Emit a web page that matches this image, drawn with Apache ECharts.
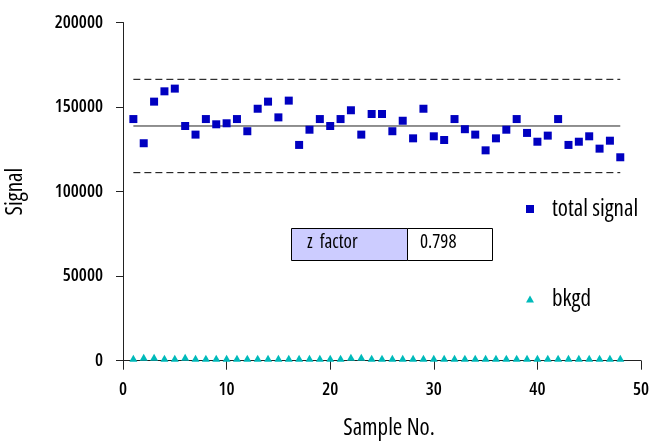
<!DOCTYPE html>
<html>
<head>
<meta charset="utf-8">
<script src="https://cdn.jsdelivr.net/npm/echarts@6/dist/echarts.min.js"></script>
<style>
html,body{margin:0;padding:0;background:#fff;}
#chart{width:650px;height:445px;}
</style>
</head>
<body>
<div id="chart"></div>
<script>
var sampleNo = [1,2,3,4,5,6,7,8,9,10,11,12,13,14,15,16,17,18,19,20,21,22,23,24,25,26,27,28,29,30,31,32,33,34,35,36,37,38,39,40,41,42,43,44,45,46,47,48];
var totalSignal = [142900,128600,153200,159300,160900,138800,133700,142900,139800,140400,142900,135700,149000,153200,143900,153800,127600,136600,142900,138800,142900,148100,133700,145900,145900,135700,141900,131500,149000,132700,130500,142900,136900,133700,124400,131500,136600,142900,134700,129500,133100,142900,127600,129500,132700,125400,130100,120300];
var bkgd = [1500,2100,2100,1500,1500,2100,1500,1500,1500,1500,1500,1500,1500,1500,1500,1500,1500,1500,1500,1500,1500,2100,2100,1500,1500,1500,1500,1500,1500,1500,1500,1500,1500,1500,1500,1500,1500,1500,1500,1500,1500,1500,1500,1500,1500,1500,1500,1500];
var meanValue = 138800;
var upperLimit = 166400;
var lowerLimit = 111200;
var lineRange = [1, 48];
var zFactorLabel = 'z  factor';
var zFactorValue = '0.798';
var xTicks = {min: 0, max: 50, interval: 10};
var yTicks = {min: 0, max: 200000, interval: 50000};

var FONT = '"Open Sans", sans-serif';
var chart = echarts.init(document.getElementById('chart'));

function pairs(xs, ys){ return xs.map(function(x,i){ return [x, ys[i]]; }); }
function hline(v){ return [[lineRange[0], v],[lineRange[1], v]]; }
function plain(v){ return String(v); }

var option = {
  animation: false,
  backgroundColor: '#ffffff',
  grid: {left: 123, right: 9, top: 22.5, bottom: 84.3, containLabel: false, outerBoundsMode: 'none'},
  xAxis: {
    type: 'value', min: xTicks.min, max: xTicks.max, interval: xTicks.interval,
    name: 'Sample No.', nameLocation: 'middle', nameGap: 56,
    nameTextStyle: {fontFamily: FONT, fontStyle: 'condensed', fontSize: 23, fontWeight: 500, color: '#000', padding: [0,0,0,14]},
    axisLine: {show: true, onZero: false, lineStyle: {color: '#222', width: 1}},
    axisTick: {show: true, inside: false, length: 9, lineStyle: {color: '#222'}},
    axisLabel: {fontFamily: FONT, fontStyle: 'condensed', fontSize: 18, fontWeight: 600, color: '#000', margin: 20, formatter: plain},
    splitLine: {show: false}
  },
  yAxis: {
    type: 'value', min: yTicks.min, max: yTicks.max, interval: yTicks.interval,
    name: 'Signal', nameLocation: 'middle', nameGap: 96, nameRotate: 90,
    nameTextStyle: {fontFamily: FONT, fontStyle: 'condensed', fontSize: 23, fontWeight: 500, color: '#000'},
    axisLine: {show: true, onZero: false, lineStyle: {color: '#222', width: 1}},
    axisTick: {show: true, inside: false, length: 7, lineStyle: {color: '#222'}},
    axisLabel: {fontFamily: FONT, fontStyle: 'condensed', fontSize: 18, fontWeight: 600, color: '#000', margin: 20, formatter: plain},
    splitLine: {show: false}
  },
  legend: [
    {
      data: [{name: 'total signal', icon: 'rect'}],
      left: 526, top: 196, padding: 0, itemWidth: 8, itemHeight: 8,
      textStyle: {fontFamily: FONT, fontStyle: 'condensed', fontSize: 23, fontWeight: 500, color: '#000', padding: [0,0,0,13], lineHeight: 26},
      selectedMode: false
    },
    {
      data: [{name: 'bkgd', icon: 'triangle'}],
      left: 526, top: 286, padding: 0, itemWidth: 8, itemHeight: 7,
      textStyle: {fontFamily: FONT, fontStyle: 'condensed', fontSize: 23, fontWeight: 500, color: '#000', padding: [0,0,0,13], lineHeight: 26},
      selectedMode: false
    }
  ],
  graphic: [
    {type: 'rect', left: 291, top: 228, shape: {width: 116, height: 32}, style: {fill: '#ccccff', stroke: '#000', lineWidth: 1}},
    {type: 'rect', left: 407, top: 228, shape: {width: 85, height: 32}, style: {fill: '#ffffff', stroke: '#000', lineWidth: 1}},
    {type: 'text', left: 307, top: 233, style: {text: zFactorLabel, font: 'condensed 500 19px ' + FONT, fill: '#000'}},
    {type: 'text', left: 420, top: 233, style: {text: zFactorValue, font: 'condensed 500 19px ' + FONT, fill: '#000'}}
  ],
  series: [
    {name: 'mean', type: 'line', data: hline(meanValue), symbol: 'none', silent: true,
     lineStyle: {color: '#222', width: 1, type: 'solid'}, z: 1},
    {name: 'upper', type: 'line', data: hline(upperLimit), symbol: 'none', silent: true,
     lineStyle: {color: '#000', width: 1, type: [7,4]}, z: 1},
    {name: 'lower', type: 'line', data: hline(lowerLimit), symbol: 'none', silent: true,
     lineStyle: {color: '#000', width: 1, type: [7,4]}, z: 1},
    {name: 'total signal', type: 'scatter', data: pairs(sampleNo, totalSignal), symbol: 'rect', symbolSize: 8,
     itemStyle: {color: '#0000c0', opacity: 1}, z: 3},
    {name: 'bkgd', type: 'scatter', data: pairs(sampleNo, bkgd), symbol: 'triangle', symbolSize: [8,7],
     itemStyle: {color: '#00baba', opacity: 1}, z: 3}
  ]
};
chart.setOption(option);
</script>
</body>
</html>
